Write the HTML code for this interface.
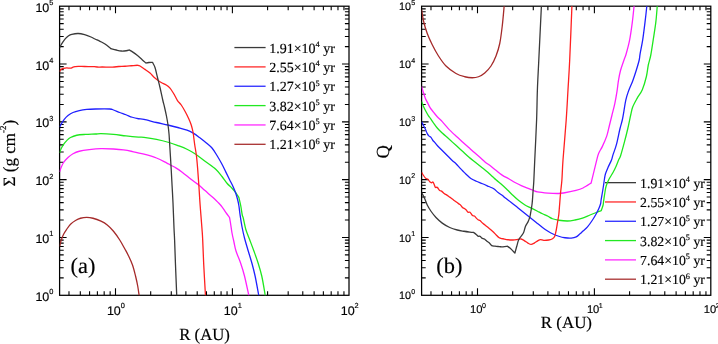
<!DOCTYPE html>
<html><head><meta charset="utf-8"><style>
html,body{margin:0;padding:0;background:#fff;width:718px;height:344px;overflow:hidden}
svg{display:block;will-change:transform;text-rendering:geometricPrecision}
text{stroke:#000;stroke-width:0.16px}

</style></head><body>
<svg width="718" height="344" viewBox="0 0 718 344">
<rect x="59.6" y="6.2" width="289.4" height="289.1" fill="none" stroke="#000" stroke-width="1.25"/>
<path d="M68.98 295.3 v-4.1 M68.98 6.2 v4.1 M80.31 295.3 v-4.1 M80.31 6.2 v4.1 M89.57 295.3 v-4.1 M89.57 6.2 v4.1 M97.39 295.3 v-4.1 M97.39 6.2 v4.1 M104.17 295.3 v-4.1 M104.17 6.2 v4.1 M110.15 295.3 v-4.1 M110.15 6.2 v4.1 M115.5 295.3 v-7 M115.5 6.2 v7 M150.69 295.3 v-4.1 M150.69 6.2 v4.1 M171.28 295.3 v-4.1 M171.28 6.2 v4.1 M185.88 295.3 v-4.1 M185.88 6.2 v4.1 M197.21 295.3 v-4.1 M197.21 6.2 v4.1 M206.47 295.3 v-4.1 M206.47 6.2 v4.1 M214.29 295.3 v-4.1 M214.29 6.2 v4.1 M221.07 295.3 v-4.1 M221.07 6.2 v4.1 M227.05 295.3 v-4.1 M227.05 6.2 v4.1 M232.4 295.3 v-7 M232.4 6.2 v7 M267.59 295.3 v-4.1 M267.59 6.2 v4.1 M288.18 295.3 v-4.1 M288.18 6.2 v4.1 M302.78 295.3 v-4.1 M302.78 6.2 v4.1 M314.11 295.3 v-4.1 M314.11 6.2 v4.1 M323.37 295.3 v-4.1 M323.37 6.2 v4.1 M331.19 295.3 v-4.1 M331.19 6.2 v4.1 M337.97 295.3 v-4.1 M337.97 6.2 v4.1 M343.95 295.3 v-4.1 M343.95 6.2 v4.1 M59.6 277.89 h4.1 M349 277.89 h-4.1 M59.6 267.71 h4.1 M349 267.71 h-4.1 M59.6 260.49 h4.1 M349 260.49 h-4.1 M59.6 254.89 h4.1 M349 254.89 h-4.1 M59.6 250.31 h4.1 M349 250.31 h-4.1 M59.6 246.44 h4.1 M349 246.44 h-4.1 M59.6 243.08 h4.1 M349 243.08 h-4.1 M59.6 240.13 h4.1 M349 240.13 h-4.1 M59.6 237.48 h7 M349 237.48 h-7 M59.6 220.07 h4.1 M349 220.07 h-4.1 M59.6 209.89 h4.1 M349 209.89 h-4.1 M59.6 202.67 h4.1 M349 202.67 h-4.1 M59.6 197.07 h4.1 M349 197.07 h-4.1 M59.6 192.49 h4.1 M349 192.49 h-4.1 M59.6 188.62 h4.1 M349 188.62 h-4.1 M59.6 185.26 h4.1 M349 185.26 h-4.1 M59.6 182.31 h4.1 M349 182.31 h-4.1 M59.6 179.66 h7 M349 179.66 h-7 M59.6 162.25 h4.1 M349 162.25 h-4.1 M59.6 152.07 h4.1 M349 152.07 h-4.1 M59.6 144.85 h4.1 M349 144.85 h-4.1 M59.6 139.25 h4.1 M349 139.25 h-4.1 M59.6 134.67 h4.1 M349 134.67 h-4.1 M59.6 130.8 h4.1 M349 130.8 h-4.1 M59.6 127.44 h4.1 M349 127.44 h-4.1 M59.6 124.49 h4.1 M349 124.49 h-4.1 M59.6 121.84 h7 M349 121.84 h-7 M59.6 104.43 h4.1 M349 104.43 h-4.1 M59.6 94.25 h4.1 M349 94.25 h-4.1 M59.6 87.03 h4.1 M349 87.03 h-4.1 M59.6 81.43 h4.1 M349 81.43 h-4.1 M59.6 76.85 h4.1 M349 76.85 h-4.1 M59.6 72.98 h4.1 M349 72.98 h-4.1 M59.6 69.62 h4.1 M349 69.62 h-4.1 M59.6 66.67 h4.1 M349 66.67 h-4.1 M59.6 64.02 h7 M349 64.02 h-7 M59.6 46.61 h4.1 M349 46.61 h-4.1 M59.6 36.43 h4.1 M349 36.43 h-4.1 M59.6 29.21 h4.1 M349 29.21 h-4.1 M59.6 23.61 h4.1 M349 23.61 h-4.1 M59.6 19.03 h4.1 M349 19.03 h-4.1 M59.6 15.16 h4.1 M349 15.16 h-4.1 M59.6 11.8 h4.1 M349 11.8 h-4.1 M59.6 8.85 h4.1 M349 8.85 h-4.1" stroke="#000" stroke-width="1.1" fill="none"/>
<rect x="421.6" y="6.2" width="289.2" height="289.1" fill="none" stroke="#000" stroke-width="1.25"/>
<path d="M430.98 295.3 v-4.1 M430.98 6.2 v4.1 M442.31 295.3 v-4.1 M442.31 6.2 v4.1 M451.57 295.3 v-4.1 M451.57 6.2 v4.1 M459.39 295.3 v-4.1 M459.39 6.2 v4.1 M466.17 295.3 v-4.1 M466.17 6.2 v4.1 M472.15 295.3 v-4.1 M472.15 6.2 v4.1 M477.5 295.3 v-7 M477.5 6.2 v7 M512.69 295.3 v-4.1 M512.69 6.2 v4.1 M533.28 295.3 v-4.1 M533.28 6.2 v4.1 M547.88 295.3 v-4.1 M547.88 6.2 v4.1 M559.21 295.3 v-4.1 M559.21 6.2 v4.1 M568.47 295.3 v-4.1 M568.47 6.2 v4.1 M576.29 295.3 v-4.1 M576.29 6.2 v4.1 M583.07 295.3 v-4.1 M583.07 6.2 v4.1 M589.05 295.3 v-4.1 M589.05 6.2 v4.1 M594.4 295.3 v-7 M594.4 6.2 v7 M629.59 295.3 v-4.1 M629.59 6.2 v4.1 M650.18 295.3 v-4.1 M650.18 6.2 v4.1 M664.78 295.3 v-4.1 M664.78 6.2 v4.1 M676.11 295.3 v-4.1 M676.11 6.2 v4.1 M685.37 295.3 v-4.1 M685.37 6.2 v4.1 M693.19 295.3 v-4.1 M693.19 6.2 v4.1 M699.97 295.3 v-4.1 M699.97 6.2 v4.1 M705.95 295.3 v-4.1 M705.95 6.2 v4.1 M421.6 277.89 h4.1 M710.8 277.89 h-4.1 M421.6 267.71 h4.1 M710.8 267.71 h-4.1 M421.6 260.49 h4.1 M710.8 260.49 h-4.1 M421.6 254.89 h4.1 M710.8 254.89 h-4.1 M421.6 250.31 h4.1 M710.8 250.31 h-4.1 M421.6 246.44 h4.1 M710.8 246.44 h-4.1 M421.6 243.08 h4.1 M710.8 243.08 h-4.1 M421.6 240.13 h4.1 M710.8 240.13 h-4.1 M421.6 237.48 h7 M710.8 237.48 h-7 M421.6 220.07 h4.1 M710.8 220.07 h-4.1 M421.6 209.89 h4.1 M710.8 209.89 h-4.1 M421.6 202.67 h4.1 M710.8 202.67 h-4.1 M421.6 197.07 h4.1 M710.8 197.07 h-4.1 M421.6 192.49 h4.1 M710.8 192.49 h-4.1 M421.6 188.62 h4.1 M710.8 188.62 h-4.1 M421.6 185.26 h4.1 M710.8 185.26 h-4.1 M421.6 182.31 h4.1 M710.8 182.31 h-4.1 M421.6 179.66 h7 M710.8 179.66 h-7 M421.6 162.25 h4.1 M710.8 162.25 h-4.1 M421.6 152.07 h4.1 M710.8 152.07 h-4.1 M421.6 144.85 h4.1 M710.8 144.85 h-4.1 M421.6 139.25 h4.1 M710.8 139.25 h-4.1 M421.6 134.67 h4.1 M710.8 134.67 h-4.1 M421.6 130.8 h4.1 M710.8 130.8 h-4.1 M421.6 127.44 h4.1 M710.8 127.44 h-4.1 M421.6 124.49 h4.1 M710.8 124.49 h-4.1 M421.6 121.84 h7 M710.8 121.84 h-7 M421.6 104.43 h4.1 M710.8 104.43 h-4.1 M421.6 94.25 h4.1 M710.8 94.25 h-4.1 M421.6 87.03 h4.1 M710.8 87.03 h-4.1 M421.6 81.43 h4.1 M710.8 81.43 h-4.1 M421.6 76.85 h4.1 M710.8 76.85 h-4.1 M421.6 72.98 h4.1 M710.8 72.98 h-4.1 M421.6 69.62 h4.1 M710.8 69.62 h-4.1 M421.6 66.67 h4.1 M710.8 66.67 h-4.1 M421.6 64.02 h7 M710.8 64.02 h-7 M421.6 46.61 h4.1 M710.8 46.61 h-4.1 M421.6 36.43 h4.1 M710.8 36.43 h-4.1 M421.6 29.21 h4.1 M710.8 29.21 h-4.1 M421.6 23.61 h4.1 M710.8 23.61 h-4.1 M421.6 19.03 h4.1 M710.8 19.03 h-4.1 M421.6 15.16 h4.1 M710.8 15.16 h-4.1 M421.6 11.8 h4.1 M710.8 11.8 h-4.1 M421.6 8.85 h4.1 M710.8 8.85 h-4.1" stroke="#000" stroke-width="1.1" fill="none"/>
<text x="49.3" y="300.8" font-family="Liberation Sans" font-size="12.5" text-anchor="end">10</text>
<text x="49.2" y="294.2" font-family="Liberation Sans" font-size="7.4">0</text>
<text x="49.3" y="242.98" font-family="Liberation Sans" font-size="12.5" text-anchor="end">10</text>
<text x="49.2" y="236.38" font-family="Liberation Sans" font-size="7.4">1</text>
<text x="49.3" y="185.16" font-family="Liberation Sans" font-size="12.5" text-anchor="end">10</text>
<text x="49.2" y="178.56" font-family="Liberation Sans" font-size="7.4">2</text>
<text x="49.3" y="127.34" font-family="Liberation Sans" font-size="12.5" text-anchor="end">10</text>
<text x="49.2" y="120.74" font-family="Liberation Sans" font-size="7.4">3</text>
<text x="49.3" y="69.52" font-family="Liberation Sans" font-size="12.5" text-anchor="end">10</text>
<text x="49.2" y="62.92" font-family="Liberation Sans" font-size="7.4">4</text>
<text x="49.3" y="11.7" font-family="Liberation Sans" font-size="12.5" text-anchor="end">10</text>
<text x="49.2" y="5.1" font-family="Liberation Sans" font-size="7.4">5</text>
<text x="410.9" y="299.4" font-family="Liberation Sans" font-size="10.8" text-anchor="end">10</text>
<text x="411.2" y="294" font-family="Liberation Sans" font-size="7.1">0</text>
<text x="410.9" y="241.58" font-family="Liberation Sans" font-size="10.8" text-anchor="end">10</text>
<text x="411.2" y="236.18" font-family="Liberation Sans" font-size="7.1">1</text>
<text x="410.9" y="183.76" font-family="Liberation Sans" font-size="10.8" text-anchor="end">10</text>
<text x="411.2" y="178.36" font-family="Liberation Sans" font-size="7.1">2</text>
<text x="410.9" y="125.94" font-family="Liberation Sans" font-size="10.8" text-anchor="end">10</text>
<text x="411.2" y="120.54" font-family="Liberation Sans" font-size="7.1">3</text>
<text x="410.9" y="68.12" font-family="Liberation Sans" font-size="10.8" text-anchor="end">10</text>
<text x="411.2" y="62.72" font-family="Liberation Sans" font-size="7.1">4</text>
<text x="410.9" y="10.3" font-family="Liberation Sans" font-size="10.8" text-anchor="end">10</text>
<text x="411.2" y="4.9" font-family="Liberation Sans" font-size="7.1">5</text>
<text x="106.9" y="314.7" font-family="Liberation Sans" font-size="12.5">10</text>
<text x="120.8" y="308.4" font-family="Liberation Sans" font-size="7.4">0</text>
<text x="223.8" y="314.7" font-family="Liberation Sans" font-size="12.5">10</text>
<text x="237.7" y="308.4" font-family="Liberation Sans" font-size="7.4">1</text>
<text x="340.7" y="314.7" font-family="Liberation Sans" font-size="12.5">10</text>
<text x="354.6" y="308.4" font-family="Liberation Sans" font-size="7.4">2</text>
<text x="470" y="312.9" font-family="Liberation Sans" font-size="11.2">10</text>
<text x="481.9" y="308.1" font-family="Liberation Sans" font-size="7.1">0</text>
<text x="586.9" y="312.9" font-family="Liberation Sans" font-size="11.2">10</text>
<text x="598.8" y="308.1" font-family="Liberation Sans" font-size="7.1">1</text>
<text x="703.8" y="312.9" font-family="Liberation Sans" font-size="11.2">10</text>
<text x="715.7" y="308.1" font-family="Liberation Sans" font-size="7.1">2</text>
<text transform="translate(179.2,340.4) scale(0.985,1)" font-family="Liberation Serif" font-size="17">R (AU)</text>
<text transform="translate(540.8,328.3) scale(0.995,1)" font-family="Liberation Serif" font-size="17">R (AU)</text>
<text transform="translate(15.0,186.4) rotate(-90) scale(0.99,1)" font-family="Liberation Serif" font-size="17.2">&#931; (g cm<tspan font-size="9" dy="-9">-2</tspan><tspan dy="9">)</tspan></text>
<text transform="translate(388.6,158.4) rotate(-90)" font-family="Liberation Serif" font-size="18.5">Q</text>
<text x="70.6" y="272.7" font-family="Liberation Serif" font-size="22.4">(a)</text>
<text x="436.3" y="273.3" font-family="Liberation Serif" font-size="22.4">(b)</text>
<path d="M234.4 47.55 H265.6" stroke="#3a3a3a" stroke-width="1.3"/>
<text x="269.2" y="52.55" font-family="Liberation Serif" font-size="14">1.91&#215;10<tspan font-size="8.4" dy="-5.5">4</tspan><tspan dy="5.5"> yr</tspan></text>
<path d="M234.4 66.9 H265.6" stroke="#ff2a2a" stroke-width="1.3"/>
<text x="269.2" y="71.9" font-family="Liberation Serif" font-size="14">2.55&#215;10<tspan font-size="8.4" dy="-5.5">4</tspan><tspan dy="5.5"> yr</tspan></text>
<path d="M234.4 86.25 H265.6" stroke="#2a2aff" stroke-width="1.3"/>
<text x="269.2" y="91.25" font-family="Liberation Serif" font-size="14">1.27&#215;10<tspan font-size="8.4" dy="-5.5">5</tspan><tspan dy="5.5"> yr</tspan></text>
<path d="M234.4 105.6 H265.6" stroke="#22e822" stroke-width="1.3"/>
<text x="269.2" y="110.6" font-family="Liberation Serif" font-size="14">3.82&#215;10<tspan font-size="8.4" dy="-5.5">5</tspan><tspan dy="5.5"> yr</tspan></text>
<path d="M234.4 124.95 H265.6" stroke="#ff2aff" stroke-width="1.3"/>
<text x="269.2" y="129.95" font-family="Liberation Serif" font-size="14">7.64&#215;10<tspan font-size="8.4" dy="-5.5">5</tspan><tspan dy="5.5"> yr</tspan></text>
<path d="M234.4 144.3 H265.6" stroke="#a83030" stroke-width="1.3"/>
<text x="269.2" y="149.3" font-family="Liberation Serif" font-size="14">1.21&#215;10<tspan font-size="8.4" dy="-5.5">6</tspan><tspan dy="5.5"> yr</tspan></text>
<path d="M605 182.65 H636" stroke="#3a3a3a" stroke-width="1.3"/>
<text x="640.1" y="187.65" font-family="Liberation Serif" font-size="13.8">1.91&#215;10<tspan font-size="8.28" dy="-5.5">4</tspan><tspan dy="5.5"> yr</tspan></text>
<path d="M605 201.96 H636" stroke="#ff2a2a" stroke-width="1.3"/>
<text x="640.1" y="206.96" font-family="Liberation Serif" font-size="13.8">2.55&#215;10<tspan font-size="8.28" dy="-5.5">4</tspan><tspan dy="5.5"> yr</tspan></text>
<path d="M605 221.27 H636" stroke="#2a2aff" stroke-width="1.3"/>
<text x="640.1" y="226.27" font-family="Liberation Serif" font-size="13.8">1.27&#215;10<tspan font-size="8.28" dy="-5.5">5</tspan><tspan dy="5.5"> yr</tspan></text>
<path d="M605 240.58 H636" stroke="#22e822" stroke-width="1.3"/>
<text x="640.1" y="245.58" font-family="Liberation Serif" font-size="13.8">3.82&#215;10<tspan font-size="8.28" dy="-5.5">5</tspan><tspan dy="5.5"> yr</tspan></text>
<path d="M605 259.89 H636" stroke="#ff2aff" stroke-width="1.3"/>
<text x="640.1" y="264.89" font-family="Liberation Serif" font-size="13.8">7.64&#215;10<tspan font-size="8.28" dy="-5.5">5</tspan><tspan dy="5.5"> yr</tspan></text>
<path d="M605 279.2 H636" stroke="#a83030" stroke-width="1.3"/>
<text x="640.1" y="284.2" font-family="Liberation Serif" font-size="13.8">1.21&#215;10<tspan font-size="8.28" dy="-5.5">6</tspan><tspan dy="5.5"> yr</tspan></text>
<defs><clipPath id="cl"><rect x="59.6" y="6.2" width="289.4" height="289.1"/></clipPath><clipPath id="cr"><rect x="421.6" y="6.2" width="289.2" height="289.1"/></clipPath></defs>
<g clip-path="url(#cl)">
<path d="M59.6 246.5 C59.85 245.5 60.43 242.54 61.1 240.5 C61.77 238.46 62.66 236.12 63.6 234.25 C64.54 232.38 65.6 230.92 66.75 229.25 C67.9 227.58 69.04 225.71 70.5 224.25 C71.96 222.79 73.83 221.5 75.5 220.5 C77.17 219.5 78.62 218.77 80.5 218.25 C82.38 217.73 84.67 217.4 86.75 217.4 C88.83 217.4 90.62 217.62 93 218.25 C95.38 218.88 98.62 220.07 101 221.2 C103.38 222.32 105.17 223.32 107.25 225 C109.33 226.68 111.42 228.75 113.5 231.25 C115.58 233.75 117.88 237.08 119.75 240 C121.62 242.92 123.36 246.25 124.75 248.75 C126.14 251.25 126.81 252.29 128.1 255 C129.39 257.71 131.25 261.46 132.5 265 C133.75 268.54 134.72 272.71 135.6 276.25 C136.47 279.79 137.15 282.96 137.75 286.25 C138.35 289.54 138.96 294.38 139.2 296" stroke="#a52a2a" stroke-width="1.3" fill="none" stroke-linejoin="round"/>
<path d="M59.6 172 C59.85 171.25 60.43 169.08 61.1 167.5 C61.77 165.92 62.45 164.17 63.6 162.5 C64.75 160.83 66.43 158.96 68 157.5 C69.57 156.04 71.12 154.79 73 153.75 C74.88 152.71 76.54 151.94 79.25 151.25 C81.96 150.56 85.62 150.04 89.25 149.6 C92.88 149.16 96.96 148.7 101 148.6 C105.04 148.5 109.75 148.78 113.5 149 C117.25 149.22 120.38 149.48 123.5 149.9 C126.62 150.32 128.83 150.78 132.25 151.5 C135.67 152.22 139.96 153.12 144 154.2 C148.04 155.28 152.75 156.57 156.5 158 C160.25 159.43 164.25 161.68 166.5 162.8 C168.75 163.93 168.38 163.87 170 164.75 C171.62 165.63 174.17 166.81 176.25 168.1 C178.33 169.39 180.42 170.93 182.5 172.5 C184.58 174.07 186.67 175.88 188.75 177.5 C190.83 179.12 193.33 181 195 182.25 C196.67 183.5 197.08 183.61 198.75 185 C200.42 186.39 202.62 188.52 205 190.6 C207.38 192.68 210.79 195.5 213 197.5 C215.21 199.5 216.75 201.05 218.25 202.6 C219.75 204.15 220.75 205.17 222 206.8 C223.25 208.43 224.5 210.63 225.75 212.4 C227 214.17 228.88 216.57 229.5 217.4 C229.67 218.33 230.08 220.4 230.5 223 C230.92 225.6 231.43 229.88 232 233 C232.57 236.12 233.23 238.75 233.9 241.75 C234.57 244.75 234.86 247.38 236 251 C237.14 254.62 239.33 259.33 240.75 263.5 C242.17 267.67 243.21 270.92 244.5 276 C245.79 281.08 247.78 290.67 248.5 294 C249.22 297.33 248.75 295.67 248.8 296" stroke="#ff20ff" stroke-width="1.3" fill="none" stroke-linejoin="round"/>
<path d="M59.6 153 C59.85 152.29 60.43 150.18 61.1 148.75 C61.77 147.32 62.66 145.76 63.6 144.4 C64.54 143.04 65.6 141.75 66.75 140.6 C67.9 139.45 68.83 138.39 70.5 137.5 C72.17 136.61 74.25 135.77 76.75 135.25 C79.25 134.73 82.38 134.61 85.5 134.4 C88.62 134.19 92.92 134.13 95.5 134 C98.08 133.87 98 133.53 101 133.6 C104 133.67 109.33 134.02 113.5 134.4 C117.67 134.78 121.83 135.45 126 135.9 C130.17 136.35 135.5 136.85 138.5 137.1 C141.5 137.35 141 137.02 144 137.4 C147 137.78 152.33 138.55 156.5 139.4 C160.67 140.25 165.42 141.47 169 142.5 C172.58 143.53 175 144.47 178 145.6 C181 146.72 184.04 147.81 187 149.25 C189.96 150.69 192.62 152.17 195.75 154.25 C198.88 156.33 202.42 159.25 205.75 161.75 C209.08 164.25 213.04 166.79 215.75 169.25 C218.46 171.71 220.12 174.17 222 176.5 C223.88 178.83 225.33 181.29 227 183.25 C228.67 185.21 230.54 186.69 232 188.25 C233.46 189.81 234.6 191.04 235.75 192.6 C236.9 194.16 238.38 196.77 238.9 197.6 C239.21 198.96 240.19 202.85 240.75 205.75 C241.31 208.65 241.83 212.96 242.25 215 C242.67 217.04 242.67 215.62 243.25 218 C243.83 220.38 244.71 225.71 245.75 229.25 C246.79 232.79 248.14 235.62 249.5 239.25 C250.86 242.88 252.44 246.96 253.9 251 C255.36 255.04 256.94 259.33 258.25 263.5 C259.56 267.67 260.71 271.42 261.75 276 C262.79 280.58 263.93 287.67 264.5 291 C265.07 294.33 265.08 295.17 265.2 296" stroke="#1ee81e" stroke-width="1.3" fill="none" stroke-linejoin="round"/>
<path d="M59.6 127 C59.96 126.35 60.98 124.37 61.75 123.1 C62.52 121.83 63.21 120.65 64.25 119.4 C65.29 118.15 66.54 116.75 68 115.6 C69.46 114.45 71.12 113.33 73 112.5 C74.88 111.67 76.96 111.12 79.25 110.6 C81.54 110.08 84.04 109.67 86.75 109.4 C89.46 109.13 91.67 109.07 95.5 109 C99.33 108.93 106.75 108.83 109.75 109 C112.75 109.17 111.83 109.42 113.5 110 C115.17 110.58 117.67 111.71 119.75 112.5 C121.83 113.29 123.92 113.96 126 114.75 C128.08 115.54 130.17 116.58 132.25 117.25 C134.33 117.92 136.54 118.39 138.5 118.75 C140.46 119.11 141 118.78 144 119.4 C147 120.03 152.54 121.57 156.5 122.5 C160.46 123.43 164.21 124.17 167.75 125 C171.29 125.83 174.54 126.65 177.75 127.5 C180.96 128.35 184.42 129.17 187 130.1 C189.58 131.03 191.17 131.87 193.25 133.1 C195.33 134.33 197.31 135.85 199.5 137.5 C201.69 139.15 204.32 141.25 206.4 143 C208.48 144.75 210.23 145.92 212 148 C213.77 150.08 215.33 152.79 217 155.5 C218.67 158.21 220.54 161.52 222 164.25 C223.46 166.98 224.5 169.36 225.75 171.9 C227 174.44 228.25 176.98 229.5 179.5 C230.75 182.02 232.21 184.71 233.25 187 C234.29 189.29 235.03 191.17 235.75 193.25 C236.47 195.33 237.07 197.42 237.6 199.5 C238.12 201.58 238.48 203.17 238.9 205.75 C239.32 208.33 239.58 211.5 240.1 215 C240.62 218.5 241.27 222.92 242 226.75 C242.73 230.58 243.46 233.96 244.5 238 C245.54 242.04 247 246.75 248.25 251 C249.5 255.25 250.86 259.33 252 263.5 C253.14 267.67 254.02 270.92 255.1 276 C256.18 281.08 257.88 290.67 258.5 294 C259.12 297.33 258.75 295.67 258.8 296" stroke="#2020ff" stroke-width="1.3" fill="none" stroke-linejoin="round"/>
<path d="M59.6 71.6 C59.82 71.25 60.25 70.05 60.9 69.5 C61.55 68.95 62.53 68.57 63.5 68.3 C64.47 68.03 65.53 67.92 66.7 67.9 C67.87 67.88 69.45 68.32 70.5 68.2 C71.55 68.08 72.25 67.45 73 67.2 C73.75 66.95 74.13 66.85 75 66.7 C75.87 66.55 76.6 66.33 78.2 66.3 C79.8 66.27 81.92 66.43 84.6 66.5 C87.28 66.57 91.95 66.58 94.3 66.7 C96.65 66.82 97.42 67.15 98.7 67.2 C99.98 67.25 99.7 67.02 102 67 C104.3 66.98 109.71 67.18 112.5 67.1 C115.29 67.02 116.67 66.64 118.75 66.5 C120.83 66.36 122.92 66.38 125 66.25 C127.08 66.12 129.17 65.92 131.25 65.75 C133.33 65.58 136.46 65.33 137.5 65.25 C137.92 65.38 138.75 65.31 140 66 C141.25 66.69 143.33 68.22 145 69.4 C146.67 70.58 148.54 71.85 150 73.1 C151.46 74.35 152.5 75.75 153.75 76.9 C155 78.05 156.25 79.07 157.5 80 C158.75 80.93 159.79 81.67 161.25 82.5 C162.71 83.33 164.79 84.07 166.25 85 C167.71 85.93 168.75 86.64 170 88.1 C171.25 89.56 172.98 92.57 173.75 93.75 C174.52 94.93 173.97 94.06 174.6 95.2 C175.22 96.34 176.39 98.97 177.5 100.6 C178.61 102.23 180 103.22 181.25 105 C182.5 106.78 183.75 108.96 185 111.25 C186.25 113.54 187.71 116.46 188.75 118.75 C189.79 121.04 190.53 122.71 191.25 125 C191.97 127.29 192.66 130.25 193.1 132.5 C193.54 134.75 193.62 136.42 193.9 138.5 C194.18 140.58 194.33 142.17 194.75 145 C195.17 147.83 195.93 151.67 196.4 155.5 C196.88 159.33 197.18 162.92 197.6 168 C198.02 173.08 198.48 179.88 198.9 186 C199.32 192.12 199.58 197.58 200.1 204.75 C200.62 211.92 201.57 223.12 202 229 C202.43 234.88 202.41 234 202.7 240 C202.99 246 203.28 255.67 203.75 265 C204.22 274.33 205.21 290.83 205.5 296" stroke="#ff2020" stroke-width="1.3" fill="none" stroke-linejoin="round"/>
<path d="M59.6 47.8 C59.72 47.55 59.77 47.25 60.3 46.3 C60.83 45.35 61.95 43.38 62.8 42.1 C63.65 40.82 64.43 39.67 65.4 38.6 C66.37 37.53 67.53 36.42 68.6 35.7 C69.67 34.98 70.2 34.67 71.8 34.3 C73.4 33.93 76.07 33.43 78.2 33.5 C80.33 33.57 82.47 34.12 84.6 34.7 C86.73 35.28 89.27 36.28 91 37 C92.73 37.72 93.5 38.28 95 39 C96.5 39.72 98.33 40.47 100 41.3 C101.67 42.13 103.23 42.8 105 44 C106.77 45.2 109.67 47.75 110.6 48.5 C111.54 48.75 114.47 49.58 116.25 50 C118.03 50.42 119.58 50.88 121.25 51 C122.92 51.12 124.89 50.92 126.25 50.75 C127.61 50.58 128.88 50.12 129.4 50 C129.92 50.32 131.15 50.97 132.5 51.9 C133.85 52.83 135.93 54.35 137.5 55.6 C139.07 56.85 140.48 58.15 141.9 59.4 C143.32 60.65 145.32 62.48 146 63.1 C146.46 63 147.67 62.62 148.75 62.5 C149.83 62.38 151.88 62.42 152.5 62.4 C152.92 63.25 154.17 64.98 155 67.5 C155.83 70.02 156.67 74.17 157.5 77.5 C158.33 80.83 159.12 83.75 160 87.5 C160.88 91.25 161.98 96.67 162.75 100 C163.52 103.33 163.97 104.79 164.6 107.5 C165.22 110.21 165.93 113.33 166.5 116.25 C167.07 119.17 167.58 122.08 168 125 C168.42 127.92 168.73 130.75 169 133.75 C169.27 136.75 169.28 137.92 169.6 143 C169.92 148.08 170.48 157.08 170.9 164.25 C171.32 171.42 171.75 179.54 172.1 186 C172.45 192.46 172.68 196 173 203 C173.32 210 173.73 221.83 174 228 C174.27 234.17 174.35 233.83 174.6 240 C174.85 246.17 175.14 255.67 175.5 265 C175.86 274.33 176.54 290.83 176.75 296" stroke="#3a3a3a" stroke-width="1.3" fill="none" stroke-linejoin="round"/>
</g>
<g clip-path="url(#cr)">
<path d="M421.6 9.75 C421.92 11.62 422.56 17.04 423.5 21 C424.44 24.96 425.79 29.54 427.25 33.5 C428.71 37.46 430.38 41 432.25 44.75 C434.12 48.5 436.21 52.46 438.5 56 C440.79 59.54 443.08 63.08 446 66 C448.92 68.92 452.88 71.71 456 73.5 C459.12 75.29 462.04 76.04 464.75 76.75 C467.46 77.46 469.96 77.75 472.25 77.75 C474.54 77.75 476.42 77.54 478.5 76.75 C480.58 75.96 482.67 74.79 484.75 73 C486.83 71.21 489.12 68.83 491 66 C492.88 63.17 494.54 59.75 496 56 C497.46 52.25 498.71 48.5 499.75 43.5 C500.79 38.5 501.5 32.42 502.25 26 C503 19.58 503.92 8.5 504.25 5" stroke="#a52a2a" stroke-width="1.3" fill="none" stroke-linejoin="round"/>
<path d="M421.6 86.5 C421.92 87.54 422.87 90.77 423.5 92.75 C424.13 94.73 424.77 96.84 425.4 98.4 C426.02 99.96 426.63 100.85 427.25 102.1 C427.87 103.35 428.48 104.75 429.1 105.9 C429.73 107.05 430.27 107.97 431 109 C431.73 110.03 432.67 111.06 433.5 112.1 C434.33 113.14 435.17 114.27 436 115.25 C436.83 116.23 437.46 116.94 438.5 118 C439.54 119.06 440.79 120.03 442.25 121.6 C443.71 123.17 445.96 125.93 447.25 127.4 C448.54 128.87 448.5 128.93 450 130.4 C451.5 131.88 454.17 134.33 456.25 136.25 C458.33 138.17 460.42 140.03 462.5 141.9 C464.58 143.78 466.67 145.63 468.75 147.5 C470.83 149.37 472.92 151.27 475 153.1 C477.08 154.93 479.58 157.03 481.25 158.5 C482.92 159.97 483.33 160.57 485 161.9 C486.67 163.23 489.38 165.05 491.25 166.5 C493.12 167.95 494.38 169.12 496.25 170.6 C498.12 172.08 500.42 174.04 502.5 175.4 C504.58 176.76 506.67 177.57 508.75 178.75 C510.83 179.93 512.92 181.36 515 182.5 C517.08 183.64 519.17 184.67 521.25 185.6 C523.33 186.53 525.54 187.32 527.5 188.1 C529.46 188.88 531.33 189.62 533 190.25 C534.67 190.88 535 191.43 537.5 191.9 C540 192.38 544.58 192.83 548 193.1 C551.42 193.37 555.42 193.52 558 193.5 C560.58 193.48 560.5 193.52 563.5 193 C566.5 192.48 572.75 191.23 576 190.4 C579.25 189.57 580.48 189.22 583 188 C585.52 186.78 589.75 183.92 591.1 183.1 L596.7 160.2 C597.02 159.07 597.65 155.7 598.6 153.4 C599.55 151.1 601.03 149.32 602.4 146.4 C603.77 143.48 605.63 139.38 606.8 135.9 C607.97 132.42 608.53 128.98 609.4 125.5 C610.27 122.02 611.1 118.65 612 115 C612.9 111.35 613.97 107.53 614.8 103.6 C615.63 99.67 616.4 95.18 617 91.4 C617.6 87.62 617.82 84.38 618.4 80.9 C618.98 77.42 619.57 73.98 620.5 70.5 C621.43 67.02 623.05 62.78 624 60 C624.95 57.22 625.26 57.15 626.2 53.8 C627.14 50.45 628.63 45.13 629.65 39.9 C630.67 34.67 631.57 27.93 632.3 22.4 C633.02 16.87 633.68 9.77 634 6.7 C634.32 3.63 634.17 4.45 634.2 4" stroke="#ff20ff" stroke-width="1.3" fill="none" stroke-linejoin="round"/>
<path d="M421.6 101.5 C421.92 102.33 422.77 104.83 423.5 106.5 C424.23 108.17 425.17 109.93 426 111.5 C426.83 113.07 427.77 114.77 428.5 115.9 C429.23 117.03 429.57 117.12 430.4 118.3 C431.23 119.48 432.36 121.38 433.5 123 C434.64 124.62 435.79 126.33 437.25 128 C438.71 129.67 440.38 131.23 442.25 133 C444.12 134.77 446.17 136.5 448.5 138.6 C450.83 140.7 453.92 143.49 456.25 145.6 C458.58 147.71 460.42 149.37 462.5 151.25 C464.58 153.13 466.67 155.11 468.75 156.9 C470.83 158.69 472.92 160.32 475 162 C477.08 163.68 479.17 165.33 481.25 167 C483.33 168.67 485.62 170.42 487.5 172 C489.38 173.58 491.04 175.17 492.5 176.5 C493.96 177.83 494.58 178.55 496.25 180 C497.92 181.45 500.62 183.53 502.5 185.2 C504.38 186.87 505.83 188.37 507.5 190 C509.17 191.63 510.62 193.23 512.5 195 C514.38 196.77 516.67 198.93 518.75 200.6 C520.83 202.27 522.92 203.75 525 205 C527.08 206.25 529.17 207.06 531.25 208.1 C533.33 209.14 535.62 210.31 537.5 211.25 C539.38 212.19 540.75 212.92 542.5 213.75 C544.25 214.58 546.33 215.42 548 216.25 C549.67 217.08 550.71 218.08 552.5 218.75 C554.29 219.42 556.25 219.88 558.75 220.25 C561.25 220.62 564.79 221.04 567.5 221 C570.21 220.96 572.5 220.48 575 220 C577.5 219.52 580 218.93 582.5 218.1 C585 217.27 587.71 215.93 590 215 C592.29 214.07 594.38 213.23 596.25 212.5 C598.12 211.77 600.42 210.92 601.25 210.6 C601.56 209.67 602.71 206.56 603.1 205 C603.49 203.44 603.3 203.33 603.6 201.25 C603.9 199.17 604.48 195 604.9 192.5 C605.32 190 605.48 188.33 606.1 186.25 C606.72 184.17 607.45 182.29 608.6 180 C609.75 177.71 611.75 174.79 613 172.5 C614.25 170.21 615.17 168.33 616.1 166.25 C617.03 164.17 617.87 161.71 618.6 160 C619.33 158.29 619.57 158.85 620.5 156 C621.43 153.15 623 147.4 624.2 142.9 C625.4 138.4 626.62 133.65 627.7 129 C628.78 124.35 629.87 118.65 630.7 115 C631.53 111.35 631.63 109.87 632.7 107.1 C633.77 104.33 635.5 101.3 637.1 98.4 C638.7 95.5 640.75 93.35 642.3 89.7 C643.85 86.05 645.4 80.62 646.4 76.5 C647.4 72.38 647.58 68.5 648.3 65 C649.02 61.5 649.88 59.68 650.7 55.5 C651.52 51.32 652.35 45.42 653.2 39.9 C654.05 34.38 655.13 27.93 655.8 22.4 C656.47 16.87 656.93 9.77 657.2 6.7 C657.47 3.63 657.37 4.45 657.4 4" stroke="#1ee81e" stroke-width="1.3" fill="none" stroke-linejoin="round"/>
<path d="M421.6 121.75 C421.92 122.38 422.87 124.25 423.5 125.5 C424.13 126.75 424.77 127.9 425.4 129.25 C426.02 130.6 426.63 132.46 427.25 133.6 C427.87 134.74 428.48 135.47 429.1 136.1 C429.73 136.73 430.37 136.67 431 137.4 C431.63 138.13 432.27 139.67 432.9 140.5 C433.52 141.33 434.02 141.57 434.75 142.4 C435.48 143.23 436.21 144.36 437.25 145.5 C438.29 146.64 439.75 148 441 149.25 C442.25 150.5 443.5 151.75 444.75 153 C446 154.25 447.25 155.5 448.5 156.75 C449.75 158 450.96 159.29 452.25 160.5 C453.54 161.71 454.96 162.73 456.25 164 C457.54 165.27 458.75 166.78 460 168.1 C461.25 169.42 462.5 170.65 463.75 171.9 C465 173.15 466.25 174.46 467.5 175.6 C468.75 176.74 469.79 177.81 471.25 178.75 C472.71 179.69 474.38 180.42 476.25 181.25 C478.12 182.08 480.42 182.88 482.5 183.75 C484.58 184.62 486.88 185.67 488.75 186.5 C490.62 187.33 492.19 187.75 493.75 188.75 C495.31 189.75 496.64 191.38 498.1 192.5 C499.56 193.62 501.35 194.62 502.5 195.5 C503.65 196.38 503.54 196.63 505 197.8 C506.46 198.97 509.17 200.88 511.25 202.5 C513.33 204.12 515.42 205.83 517.5 207.5 C519.58 209.17 521.67 210.83 523.75 212.5 C525.83 214.17 527.92 215.83 530 217.5 C532.08 219.17 534.17 220.83 536.25 222.5 C538.33 224.17 540.54 226.04 542.5 227.5 C544.46 228.96 546.33 230.21 548 231.25 C549.67 232.29 550.71 232.92 552.5 233.75 C554.29 234.58 556.67 235.58 558.75 236.25 C560.83 236.92 562.92 237.44 565 237.75 C567.08 238.06 569.38 238.24 571.25 238.1 C573.12 237.96 574.79 237.62 576.25 236.9 C577.71 236.18 578.88 234.73 580 233.75 C581.12 232.77 581.75 232.14 583 231 C584.25 229.86 585.92 228.73 587.5 226.9 C589.08 225.07 591.04 222.19 592.5 220 C593.96 217.81 595.21 215.62 596.25 213.75 C597.29 211.88 598.02 210.42 598.75 208.75 C599.48 207.08 600.21 205.21 600.6 203.75 C600.99 202.29 600.8 201.88 601.1 200 C601.4 198.12 601.98 195 602.4 192.5 C602.82 190 603.25 187.29 603.6 185 C603.95 182.71 604.18 180.62 604.5 178.75 C604.82 176.88 604.92 175.62 605.5 173.75 C606.08 171.88 607 169.79 608 167.5 C609 165.21 610.68 162.07 611.5 160 C612.32 157.93 612.08 157.65 612.9 155.1 C613.72 152.55 615.23 149.05 616.4 144.7 C617.57 140.35 618.92 133.12 619.9 129 C620.88 124.88 621.62 123.07 622.3 120 C622.98 116.93 623.42 113.92 624 110.6 C624.58 107.28 625.07 103.3 625.8 100.1 C626.53 96.9 627.25 94.6 628.4 91.4 C629.55 88.2 631.4 84.38 632.7 80.9 C634 77.42 635.12 73.98 636.2 70.5 C637.28 67.02 638.55 62.78 639.2 60 C639.85 57.22 639.52 57.15 640.1 53.8 C640.68 50.45 641.88 45.13 642.7 39.9 C643.52 34.67 644.33 27.93 645 22.4 C645.67 16.87 646.43 9.77 646.75 6.7 C647.07 3.63 646.88 4.45 646.9 4" stroke="#2020ff" stroke-width="1.3" fill="none" stroke-linejoin="round"/>
<path d="M421.6 172.3 C421.92 172.83 422.77 174.45 423.5 175.5 C424.23 176.55 425.27 177.97 426 178.6 C426.73 179.22 427.27 178.72 427.9 179.25 C428.52 179.78 429.13 181.17 429.75 181.75 C430.37 182.33 431.08 182.71 431.6 182.75 C432.12 182.79 432.48 181.75 432.9 182 C433.32 182.25 433.68 183.35 434.1 184.25 C434.52 185.15 434.88 186.88 435.4 187.4 C435.92 187.93 436.52 186.88 437.25 187.4 C437.98 187.92 439.02 189.88 439.75 190.5 C440.48 191.12 440.88 190.58 441.6 191.1 C442.33 191.62 443.27 192.97 444.1 193.6 C444.93 194.23 445.77 194.38 446.6 194.9 C447.43 195.43 448.37 196.23 449.1 196.75 C449.83 197.27 450.27 197.47 451 198 C451.73 198.53 452.67 199.28 453.5 199.9 C454.33 200.53 455.17 201.13 456 201.75 C456.83 202.37 457.77 203.07 458.5 203.6 C459.23 204.12 459.73 204.25 460.4 204.9 C461.07 205.55 461.83 206.9 462.5 207.5 C463.17 208.1 463.77 208.08 464.4 208.5 C465.02 208.92 465.63 209.38 466.25 210 C466.87 210.62 467.48 211.88 468.1 212.25 C468.73 212.62 469.27 211.69 470 212.25 C470.73 212.81 471.77 214.97 472.5 215.6 C473.23 216.22 473.77 215.58 474.4 216 C475.02 216.42 475.63 217.47 476.25 218.1 C476.87 218.72 477.48 219.33 478.1 219.75 C478.73 220.17 479.27 220.04 480 220.6 C480.73 221.16 481.67 222.37 482.5 223.1 C483.33 223.83 483.96 224.17 485 225 C486.04 225.83 487.5 227.06 488.75 228.1 C490 229.14 491.25 230.1 492.5 231.25 C493.75 232.4 495.21 233.96 496.25 235 C497.29 236.04 497.92 236.92 498.75 237.5 C499.58 238.08 500.83 238.33 501.25 238.5 C501.54 238.54 501.88 238.54 503 238.75 C504.12 238.96 506.33 239.54 508 239.75 C509.67 239.96 511.33 240.06 513 240 C514.67 239.94 516.65 239.57 518 239.4 C519.35 239.23 520.06 238.8 521.1 239 C522.14 239.2 523.1 239.92 524.25 240.6 C525.4 241.28 526.86 242.47 528 243.1 C529.14 243.73 530.06 244.4 531.1 244.4 C532.14 244.4 533.1 243.73 534.25 243.1 C535.4 242.47 536.96 241.18 538 240.6 C539.04 240.02 539.54 239.63 540.5 239.6 C541.46 239.57 542.38 240.33 543.75 240.4 C545.12 240.47 547.29 240.28 548.75 240 C550.21 239.72 551.5 239.38 552.5 238.75 C553.5 238.12 554.12 237.71 554.75 236.25 C555.38 234.79 555.79 232.29 556.25 230 C556.71 227.71 557.08 225 557.5 222.5 C557.92 220 558.43 217.5 558.75 215 C559.07 212.5 559.09 211.25 559.4 207.5 C559.71 203.75 560.18 197.08 560.6 192.5 C561.02 187.92 561.5 185.42 561.9 180 C562.3 174.58 562.28 170 563 160 C563.72 150 565.37 131.72 566.2 120 C567.03 108.28 567.42 99.7 568 89.7 C568.58 79.7 569.03 74.28 569.7 60 C570.37 45.72 571.62 13.33 572 4" stroke="#ff2020" stroke-width="1.3" fill="none" stroke-linejoin="round"/>
<path d="M421.6 192.5 C421.71 192.71 421.73 192.71 422.25 193.75 C422.77 194.79 423.92 196.88 424.75 198.75 C425.58 200.62 426.21 202.92 427.25 205 C428.29 207.08 429.54 209.17 431 211.25 C432.46 213.33 434.12 215.53 436 217.5 C437.88 219.47 439.96 221.43 442.25 223.1 C444.54 224.77 447.25 226.35 449.75 227.5 C452.25 228.65 454.88 229.38 457.25 230 C459.62 230.62 461.88 230.9 464 231.25 C466.12 231.6 468.38 231.89 470 232.1 C471.62 232.31 473.12 232.43 473.75 232.5 C474.17 232.82 475.52 233.78 476.25 234.4 C476.98 235.03 477.48 235.94 478.1 236.25 C478.73 236.56 479.37 235.94 480 236.25 C480.63 236.56 481.17 237.64 481.9 238.1 C482.63 238.56 483.57 238.47 484.4 239 C485.23 239.53 486.07 240.58 486.9 241.25 C487.73 241.92 488.6 242.28 489.4 243 C490.2 243.72 490.77 245.07 491.7 245.6 C492.63 246.13 493.75 246.03 495 246.2 C496.25 246.37 497.87 246.48 499.2 246.6 C500.53 246.72 501.63 246.96 503 246.9 C504.37 246.84 506.67 246.36 507.4 246.25 C507.92 246.62 509.25 247.36 510.5 248.5 C511.75 249.64 514.17 252.33 514.9 253.1 C515.21 251.96 516.13 248.43 516.75 246.25 C517.37 244.07 517.88 241.67 518.6 240 C519.33 238.33 520.27 237.5 521.1 236.25 C521.93 235 522.87 234.17 523.6 232.5 C524.33 230.83 524.77 228.02 525.5 226.25 C526.23 224.48 527.33 223.28 528 221.9 C528.67 220.53 529.12 219.15 529.5 218 C529.88 216.85 529.87 217.37 530.3 215 C530.73 212.63 531.63 207.87 532.1 203.8 C532.57 199.73 532.82 194.37 533.1 190.6 C533.38 186.83 533.52 186.3 533.8 181.2 C534.07 176.1 534.28 170.2 534.75 160 C535.22 149.8 536.16 131.72 536.6 120 C537.04 108.28 537.03 99.7 537.4 89.7 C537.77 79.7 538.12 74.28 538.8 60 C539.48 45.72 541.05 13.33 541.5 4" stroke="#3a3a3a" stroke-width="1.3" fill="none" stroke-linejoin="round"/>
</g>
</svg>
</body></html>
